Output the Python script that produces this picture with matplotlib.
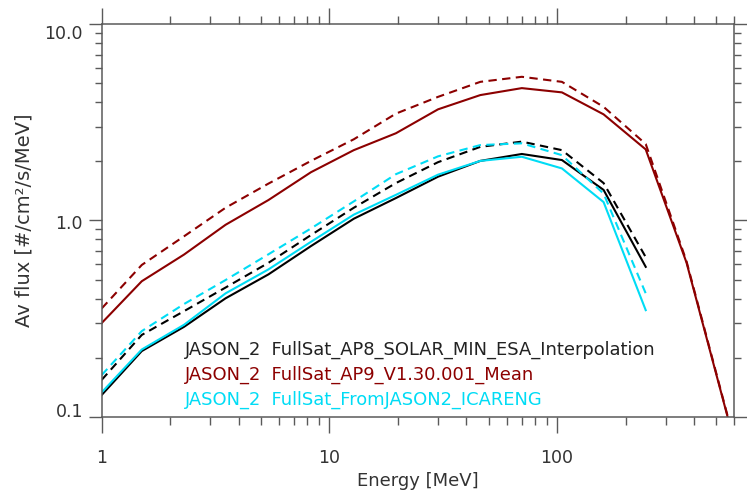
import matplotlib
matplotlib.use("Agg")
import matplotlib.pyplot as plt
from matplotlib.ticker import LogLocator, NullFormatter, FixedLocator, FixedFormatter
from matplotlib.transforms import ScaledTranslation

# energy grid [MeV]
energy = [1.0, 1.5, 2.3, 3.5, 5.4, 8.3, 12.8, 19.6, 30, 46, 70, 105, 160, 245, 370, 570]
energy_short = energy[:14]

# AP8 solar min (black)
ap8_solid = [0.129, 0.216, 0.287, 0.401, 0.531, 0.74, 1.02, 1.30, 1.67, 2.01, 2.18, 2.03, 1.43, 0.58]
ap8_dashed = [0.154, 0.261, 0.345, 0.455, 0.608, 0.842, 1.16, 1.55, 1.98, 2.37, 2.52, 2.28, 1.55, 0.65]

# AP9 mean (dark red)
ap9_solid = [0.30, 0.49, 0.67, 0.95, 1.27, 1.76, 2.28, 2.78, 3.68, 4.35, 4.72, 4.49, 3.47, 2.30, 0.61, 0.093]
ap9_dashed = [0.356, 0.593, 0.83, 1.16, 1.54, 2.01, 2.59, 3.5, 4.26, 5.08, 5.39, 5.08, 3.79, 2.45, 0.62, 0.094]

# ICARE-NG (cyan)
icare_solid = [0.133, 0.22, 0.294, 0.425, 0.563, 0.778, 1.07, 1.35, 1.71, 2.01, 2.11, 1.84, 1.24, 0.349]
icare_dashed = [0.163, 0.273, 0.375, 0.497, 0.672, 0.91, 1.25, 1.72, 2.12, 2.42, 2.47, 2.15, 1.37, 0.425]

labels = [
    "JASON_2  FullSat_AP8_SOLAR_MIN_ESA_Interpolation",
    "JASON_2  FullSat_AP9_V1.30.001_Mean",
    "JASON_2  FullSat_FromJASON2_ICARENG",
]
x_ticks = [1, 10, 100]
x_ticklabels = ["1", "10", "100"]
y_ticks = [0.1, 1.0, 10.0]
y_ticklabels = ["0.1", "1.0", "10.0"]

BLACK = "#000000"
RED = "#8c0000"
CYAN = "#00dcf5"
AXC = "#5a5a5a"
TXT = "#333333"

plt.rcParams["font.family"] = "DejaVu Sans"

fig = plt.figure(figsize=(7.47, 4.92), dpi=100)
ax = fig.add_axes([0.1361, 0.153, 0.8469, 0.798])

lw = 1.5
dash = (4, 2.6)
ax.plot(energy_short, ap8_solid, color=BLACK, lw=lw)
ax.plot(energy_short, ap8_dashed, color=BLACK, lw=lw, dashes=dash)
ax.plot(energy, ap9_solid, color=RED, lw=lw)
ax.plot(energy, ap9_dashed, color=RED, lw=lw, dashes=dash)
ax.plot(energy_short, icare_solid, color=CYAN, lw=lw)
ax.plot(energy_short, icare_dashed, color=CYAN, lw=lw, dashes=dash)

ax.set_xscale("log")
ax.set_yscale("log")
ax.set_xlim(1, 600)
ax.set_ylim(0.1, 10)

for s in ax.spines.values():
    s.set_color(AXC)
    s.set_linewidth(1.1)

ax.xaxis.set_major_locator(FixedLocator(x_ticks))
ax.xaxis.set_major_formatter(FixedFormatter(x_ticklabels))
ax.xaxis.set_minor_locator(LogLocator(base=10, subs=range(2, 10), numticks=20))
ax.xaxis.set_minor_formatter(NullFormatter())
ax.yaxis.set_major_locator(FixedLocator(y_ticks))
ax.yaxis.set_major_formatter(FixedFormatter(y_ticklabels))
ax.yaxis.set_minor_locator(LogLocator(base=10, subs=range(2, 10), numticks=20))
ax.yaxis.set_minor_formatter(NullFormatter())

ax.tick_params(axis="x", which="major", direction="out", length=11.5, width=1.0,
               color=AXC, pad=12, labelsize=12.5, labelcolor=TXT, top=True)
ax.tick_params(axis="x", which="minor", direction="out", length=5.5, width=1.0,
               color=AXC, top=True)
ax.tick_params(axis="y", which="major", direction="out", length=9.5, width=1.0,
               color=AXC, pad=4, labelsize=12.5, labelcolor=TXT, right=True)
ax.tick_params(axis="y", which="minor", direction="out", length=5, width=1.0,
               color=AXC, right=True)

# end labels sit inside the axis range, like in IDL output
ylabs = ax.get_yticklabels()
ylabs[0].set_transform(ylabs[0].get_transform() + ScaledTranslation(0, 0.065, fig.dpi_scale_trans))
ylabs[2].set_transform(ylabs[2].get_transform() + ScaledTranslation(0, -0.08, fig.dpi_scale_trans))
ylabs[1].set_transform(ylabs[1].get_transform() + ScaledTranslation(0, -0.02, fig.dpi_scale_trans))

ax.set_xlabel("Energy [MeV]", fontsize=13, color=TXT, labelpad=3)
ax.set_ylabel("Av flux [#/cm²/s/MeV]", fontsize=14, color=TXT, labelpad=8)

for i, (lab, c) in enumerate(zip(labels, ["#222222", RED, CYAN])):
    ax.text(0.1317, [0.170, 0.106, 0.0425][i], lab, color=c, fontsize=12.9,
            transform=ax.transAxes, ha="left", va="center")

fig.savefig("out.png", dpi=100)
